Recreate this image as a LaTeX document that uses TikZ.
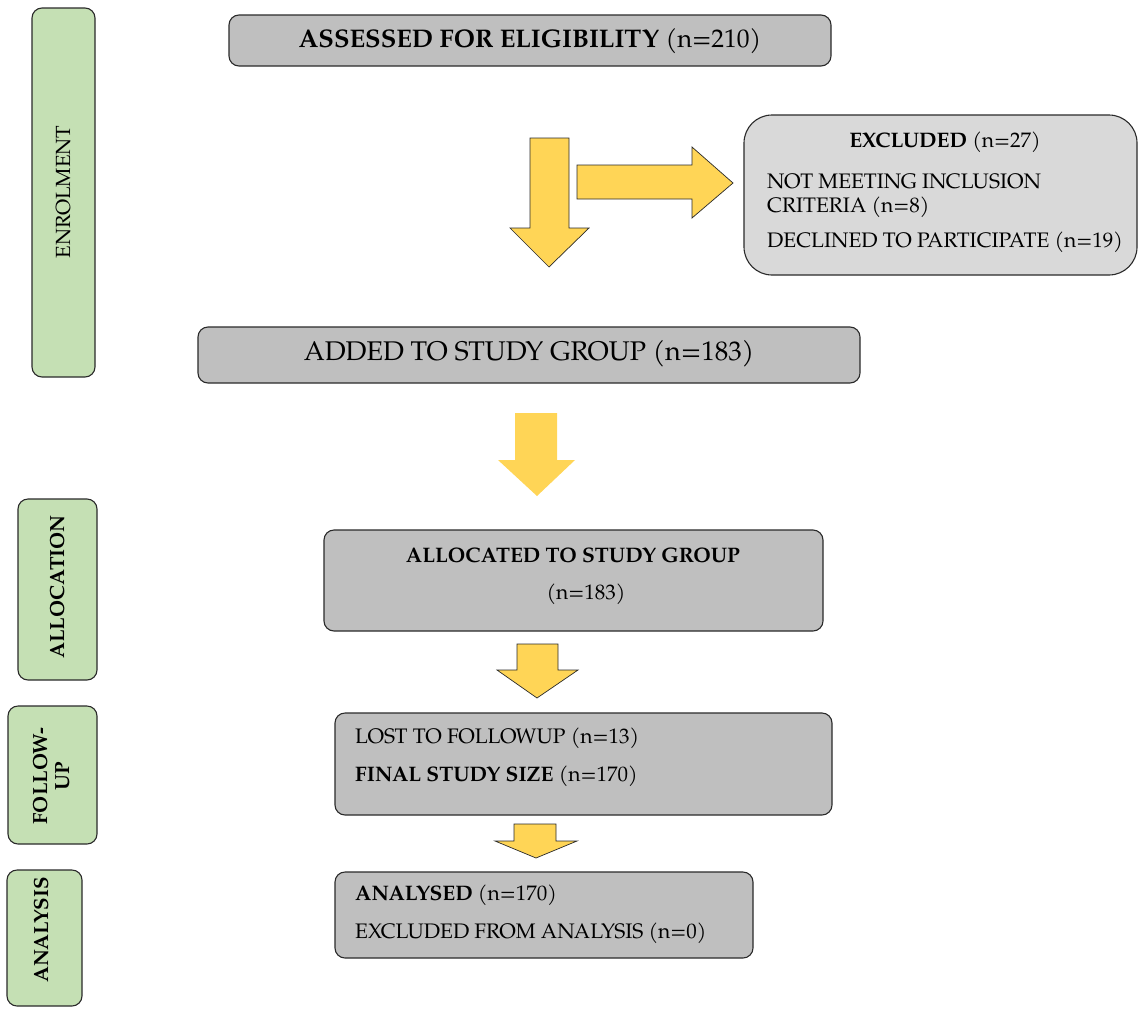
\documentclass[tikz,border=0pt]{standalone}
\usepackage{fontspec}
\setmainfont{TeX Gyre Pagella}
\definecolor{boxgray}{HTML}{BFBFBF}
\definecolor{exclgray}{HTML}{D9D9D9}
\definecolor{phasegreen}{HTML}{C5E0B4}
\definecolor{arrowyellow}{HTML}{FFD556}
\definecolor{edgecol}{HTML}{2A2A2A}
\newcommand{\fsmall}{\fontsize{21}{24}\selectfont}
\newcommand{\fphase}{\fontsize{20.5}{22}\selectfont}
\begin{document}
\begin{tikzpicture}[x=1pt,y=-1pt,
  graybox/.style={draw=edgecol, line width=1.1pt, rounded corners=10pt, fill=boxgray, inner sep=0pt},
  exclbox/.style={draw=edgecol, line width=1.1pt, rounded corners=28pt, fill=exclgray, inner sep=0pt},
  phasebox/.style={draw=edgecol, line width=1.1pt, rounded corners=10pt, fill=phasegreen, inner sep=0pt},
  blockarrow/.style={fill=arrowyellow, draw=edgecol, line width=0.7pt, line join=miter},
  plainarrow/.style={fill=arrowyellow, draw=none},
  lbl/.style={inner sep=0pt, font=\fsmall, anchor=west},
  ctr/.style={inner sep=0pt, font=\fsmall},
  phaselbl/.style={inner sep=0pt, font=\fphase, rotate=90, align=center}]
\useasboundingbox (0,0) rectangle (1139,1009);

% phase boxes
\node[phasebox, minimum width=63pt, minimum height=369pt] (enrol) at (63.5,192.5) {};
\node[phasebox, minimum width=79pt, minimum height=181pt] (allocph) at (57.5,589.5) {};
\node[phasebox, minimum width=89pt, minimum height=138pt] (followph) at (52.5,775) {};
\node[phasebox, minimum width=75pt, minimum height=136pt] (analph) at (44.5,938) {};
\node[phaselbl] (enroltxt) at (63,192) {ENROLMENT};
\node[phaselbl, font=\fphase\bfseries] (alloctxt) at (58,587) {ALLOCATION};
\node[phaselbl, font=\fphase\bfseries] (followtxt) at (52,776) {FOLLOW-\\UP};
\node[phaselbl, font=\fphase\bfseries] (analtxt) at (42,930) {ANALYSIS};

% main boxes
\node[graybox, minimum width=602pt, minimum height=51pt] (assess) at (530,40.5) {};
\node[ctr, font=\fontsize{25.5}{28}\selectfont] (assesstxt) at (530,41) {\bfseries ASSESSED FOR ELIGIBILITY \mdseries(n=210)};

\node[exclbox, minimum width=393pt, minimum height=160pt] (excl) at (940.5,195) {};
\node[ctr] (excltitle) at (945,142) {\bfseries EXCLUDED \mdseries(n=27)};
\node[lbl] (excl1) at (767,181) {NOT MEETING INCLUSION};
\node[lbl] (excl2) at (767,207) {CRITERIA (n=8)};
\node[lbl] (excl3) at (767,242) {DECLINED TO PARTICIPATE (n=19)};

\node[graybox, minimum width=662pt, minimum height=56pt] (added) at (529,355) {};
\node[ctr, font=\fontsize{27}{30}\selectfont] (addedtxt) at (529,354) {ADDED TO STUDY GROUP (n=183)};

\node[graybox, minimum width=499pt, minimum height=101pt] (allocated) at (573.5,580.5) {};
\node[ctr, font=\fsmall\bfseries] (allocated1) at (573,555) {ALLOCATED TO STUDY GROUP};
\node[ctr] (allocated2) at (586,594) {(n=183)};

\node[graybox, minimum width=497pt, minimum height=102pt] (lost) at (583.5,764) {};
\node[lbl] (lost1) at (355,738) {LOST TO FOLLOWUP (n=13)};
\node[lbl] (lost2) at (355,776) {\bfseries FINAL STUDY SIZE \mdseries(n=170)};

\node[graybox, minimum width=418pt, minimum height=86pt] (analysed) at (544,915) {};
\node[lbl] (anal1) at (355,895) {\bfseries ANALYSED \mdseries(n=170)};
\node[lbl] (anal2) at (355,933) {EXCLUDED FROM ANALYSIS (n=0)};

% block arrows
\draw[blockarrow] (530,138) -- (569,138) -- (569,228) -- (589,228) -- (549,267) -- (510,228) -- (530,228) -- cycle;
\draw[blockarrow] (577,165) -- (692,165) -- (692,147) -- (733,183) -- (692,218) -- (692,199) -- (577,199) -- cycle;
\fill[plainarrow] (515,413) -- (557,413) -- (557,460) -- (575,460) -- (537,496) -- (498,460) -- (515,460) -- cycle;
\draw[blockarrow] (517,644) -- (558,644) -- (558,670) -- (578,670) -- (537,698) -- (497,670) -- (517,670) -- cycle;
\draw[blockarrow] (514,824) -- (556,824) -- (556,841) -- (577,841) -- (536,858) -- (495,841) -- (514,841) -- cycle;
\end{tikzpicture}
\end{document}
